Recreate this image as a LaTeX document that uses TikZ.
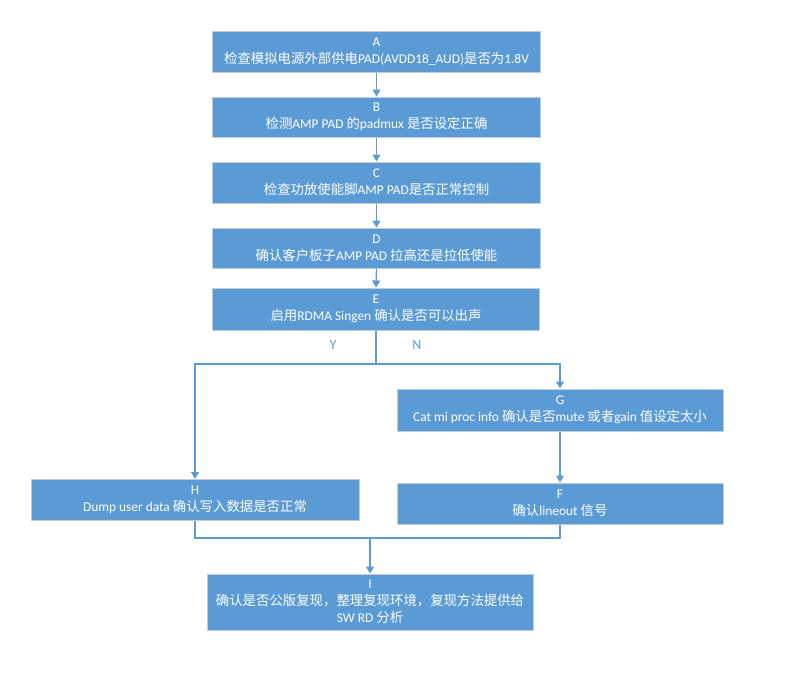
\documentclass[tikz,border=0pt]{standalone}
\usepackage{fontspec}
\setmainfont{Carlito}
\newfontfamily\cjk{Noto Sans CJK SC}
\newcommand{\zh}[1]{{\cjk #1}}
\usetikzlibrary{arrows.meta}
\definecolor{boxblue}{HTML}{5B9BD5}
\definecolor{boxrim}{HTML}{C3CCD6}

\begin{document}
\begin{tikzpicture}[x=1pt, y=-1pt, >={Triangle[width=8pt,length=7pt]},
    stepbox/.style={draw=boxrim, line width=1pt, fill=boxblue, text=white, align=center,
                    inner sep=0pt, font=\fontsize{13.4}{17}\selectfont},
    link/.style={draw=boxblue, line width=1.3pt}]
    \useasboundingbox (0,0) rectangle (808,673);
    % =========================
    % main chain
    \node[stepbox, minimum width=328, minimum height=41] (a) at (376.5,51.5)
        {A\\\zh{检查模拟电源外部供电}PAD(AVDD18\_AUD)\zh{是否为}1.8V};
    \node[stepbox, minimum width=328, minimum height=40] (b) at (376.5,117)
        {B\\\zh{检测}AMP PAD \zh{的}padmux \zh{是否设定正确}};
    \node[stepbox, minimum width=328, minimum height=41] (c) at (376.5,182.5)
        {C\\\zh{检查功放使能脚}AMP PAD\zh{是否正常控制}};
    \node[stepbox, minimum width=328, minimum height=40] (d) at (376.5,248)
        {D\\\zh{确认客户板子}AMP PAD \zh{拉高还是拉低使能}};
    \node[stepbox, minimum width=327, minimum height=42] (e) at (376,309)
        {E\\\zh{启用}RDMA Singen \zh{确认是否可以出声}};

    \foreach \p/\q in {a/b, b/c, c/d, d/e}
        \draw[link, ->] (\p.south) -- (\q.north);

    % ===============================
    % branches
    \node[text=boxblue, font=\fontsize{14}{17}\selectfont] (ylab) at (333,345) {Y};
    \node[text=boxblue, font=\fontsize{14}{17}\selectfont] (nlab) at (417,345) {N};

    \node[stepbox, minimum width=326, minimum height=42] (g) at (560,410)
        {G\\Cat mi proc info \zh{确认是否}mute \zh{或者}gain \zh{值设定太小}};
    \node[stepbox, minimum width=328, minimum height=41] (h) at (195,500)
        {H\\Dump user data \zh{确认写入数据是否正常}};
    \node[stepbox, minimum width=326, minimum height=41] (f) at (560,503.5)
        {F\\\zh{确认}lineout \zh{信号}};

    \coordinate (split) at (376,364);
    \draw[link] (e.south) -- (split);
    \draw[link, ->] (split) -| (h.north);
    \draw[link, ->] (split) -| (g.north);
    \draw[link, ->] (g.south) -- (f.north);

    % ===============================
    % merge
    \node[stepbox, minimum width=326, minimum height=56] (i) at (370,602)
        {I\\\zh{确认是否公版复现，整理复现环境，复现方法提供给}\\SW RD \zh{分析}};

    \coordinate (join) at (370,538);
    \draw[link] (h.south) |- (join);
    \draw[link] (f.south) |- (join);
    \draw[link, ->] (join) -- (i.north);
\end{tikzpicture}
\end{document}
